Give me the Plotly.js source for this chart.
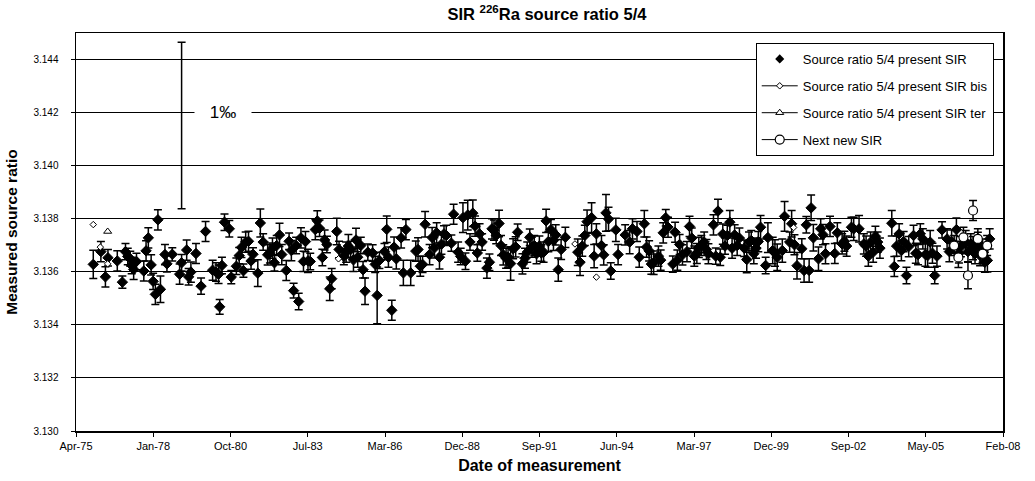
<!DOCTYPE html>
<html><head><meta charset="utf-8">
<script src="https://cdn.plot.ly/plotly-3.0.1.min.js"></script>
<style>html,body{margin:0;padding:0;background:#fff}#chart{width:1035px;height:481px}</style>
</head><body><div id="chart"></div>
<script>
// Source ratio 5/4 present SIR (decimal year, ratio, uncertainty)
const mainYear=[1975.90,1976.17,1976.33,1976.42,1976.75,1976.93,1977.04,1977.12,1977.21,1977.26,1977.33,1977.43,1977.69,1977.77,1977.85,1977.95,1978.02,1978.10,1978.19,1978.28,1978.44,1978.51,1978.70,1978.96,1979.03,1979.21,1979.28,1979.36,1979.54,1979.72,1979.88,1980.13,1980.25,1980.34,1980.38,1980.46,1980.55,1980.72,1980.79,
1980.97,1981.07,1981.15,1981.22,1981.30,1981.40,1981.49,1981.56,1981.73,1981.82,1981.92,1982.08,1982.16,1982.25,1982.32,1982.40,1982.50,1982.58,1982.74,1982.84,1982.92,1983.00,1983.09,1983.18,1983.26,1983.35,1983.42,1983.51,1983.59,1983.77,1983.84,1983.92,1984.02,1984.10,1984.18,1984.28,1984.35,1984.53,1984.61,1984.78,1984.86,1984.94,1985.02,1985.12,1985.21,1985.27,1985.38,1985.46,1985.53,1985.63,1985.80,1985.89,1985.96,1986.04,1986.22,1986.30,1986.36,
1986.48,1986.56,1986.64,1986.81,1986.89,1986.98,1987.15,1987.33,1987.41,1987.49,1987.57,1987.66,1987.82,1987.91,1987.99,1988.07,1988.17,1988.24,1988.33,1988.41,1988.59,1988.67,1988.83,1988.92,1989.00,1989.09,1989.17,1989.25,1989.35,1989.43,1989.51,1989.59,1989.68,1989.85,1989.94,1990.03,1990.10,1990.18,1990.28,1990.35,1990.43,1990.53,1990.60,1990.69,1990.78,1990.87,1990.94,1991.11,1991.20,1991.28,1991.37,1991.45,1991.53,1991.61,1991.71,1991.78,
1991.86,1991.95,1992.03,1992.12,1992.21,1992.29,1992.38,1992.48,1992.63,1993.07,1993.15,1993.23,1993.32,1993.40,1993.56,1993.65,1993.73,1993.91,1993.99,1994.07,1994.16,1994.24,1994.42,1994.50,1994.75,1994.91,1995.01,1995.17,1995.25,1995.43,1995.51,1995.60,1995.68,1995.76,1995.93,1996.01,1996.10,1996.19,1996.27,1996.44,1996.52,1996.60,1996.68,1996.78,1996.94,1997.03,1997.11,1997.20,1997.29,
1997.36,1997.45,1997.55,1997.63,1997.70,1997.88,1997.96,1998.04,1998.12,1998.21,1998.29,1998.37,1998.46,1998.54,1998.63,1998.72,1998.80,1998.97,1999.06,1999.14,1999.22,1999.31,1999.39,1999.47,1999.55,1999.73,1999.81,1999.98,2000.06,2000.14,2000.32,2000.40,2000.58,2000.65,2000.75,2000.84,2001.01,2001.09,2001.17,2001.27,2001.34,2001.42,2001.60,2001.68,2001.76,2001.85,2002.01,2002.18,2002.27,2002.44,2002.52,2002.60,2002.77,
2002.85,2003.04,2003.21,2003.29,2003.37,2003.45,2003.54,2003.62,2003.70,2003.78,2004.20,2004.29,2004.37,2004.46,2004.54,2004.62,2004.72,2004.80,2004.97,2005.05,2005.13,2005.21,2005.30,2005.39,2005.47,2005.56,2005.64,2005.72,2005.80,2005.98,2006.16,2006.24,2006.32,2006.49,2006.58,2006.65,2006.82,2006.90,2007.00,2007.08,2007.15,2007.25,2007.33,2007.42,2007.50,2007.59,2007.67];
const mainRatio=[3.13628,3.13676,3.13581,3.13653,3.13641,3.13561,3.13676,3.13658,3.13649,3.13624,3.13609,3.13639,3.13603,3.13679,3.13728,3.13626,3.13564,3.13515,3.13796,3.13534,3.13665,3.1363,3.13666,3.13591,3.13634,3.13682,3.13581,3.13599,3.13669,3.13546,3.13752,3.13606,3.13599,3.13591,3.13468,3.13624,3.13787,3.13762,3.1358,
3.13621,3.13661,3.13692,3.13604,3.13712,3.13715,3.13641,3.13666,3.13595,3.13784,3.13712,3.13664,3.13671,3.13689,3.13634,3.13699,3.13739,3.13665,3.13605,3.13715,3.1368,3.13529,3.13699,3.13488,3.13728,3.13639,3.13714,3.13641,3.13639,3.13759,3.13792,3.13764,3.13654,3.1372,3.13703,3.13536,3.13574,3.13752,3.13684,3.13658,3.13674,3.13697,3.13684,3.13645,3.1372,3.13655,3.13699,3.13608,3.13527,3.13674,3.13671,3.13628,3.13511,3.13643,3.13676,3.1376,3.13655,
3.13455,3.13693,3.13649,3.13728,3.13596,3.13759,3.13596,3.13678,3.13684,3.13621,3.13628,3.13779,3.13665,3.13729,3.1369,3.13747,3.13655,3.13704,3.13743,3.13737,3.13708,3.13817,3.13674,3.13658,3.13804,3.1364,3.13814,3.13712,3.13821,3.13772,3.13671,3.13743,3.13712,3.13614,3.13636,3.13762,3.13757,3.13737,3.13782,3.13699,3.13664,3.13651,3.13655,3.13631,3.13687,3.13694,3.13749,3.1363,3.13651,3.13674,3.1373,3.13693,3.13699,3.13668,3.13697,3.13671,
3.13674,3.13792,3.13714,3.13759,3.13718,3.13739,3.13608,3.13684,3.1373,3.13674,3.13636,3.13697,3.13737,3.13789,3.13804,3.13659,3.13743,3.13699,3.13664,3.13822,3.13799,3.13603,3.13758,3.13665,3.13739,3.13712,3.13762,3.13752,3.13655,3.13781,3.13693,3.13679,3.13629,3.13634,3.13659,3.13644,3.13747,3.13804,3.13768,3.13629,3.13749,3.13644,3.13703,3.13664,3.13676,3.13771,3.13727,3.13659,3.13669,
3.13692,3.13699,3.13712,3.13684,3.13668,3.13777,3.13659,3.13829,3.13655,3.13742,3.13697,3.13737,3.13787,3.13689,3.13739,3.13699,3.13727,3.13689,3.13646,3.13712,3.13718,3.13668,3.13689,3.13714,3.13768,3.13624,3.13729,3.1368,3.13671,3.13655,3.1368,3.13809,3.13712,3.13781,3.13702,3.13623,3.13687,3.13605,3.13777,3.13605,3.13841,3.13728,3.13649,3.13762,3.1374,3.13668,3.13771,3.13669,3.13747,3.13705,3.13715,3.13697,3.13768,
3.13762,3.13762,3.13705,3.13697,3.13659,3.13712,3.13674,3.13734,3.13712,3.13689,3.13783,3.1362,3.13697,3.13743,3.1368,3.13714,3.13586,3.13695,3.13737,3.1367,3.13665,3.13743,3.13724,3.13665,3.13661,3.13712,3.1367,3.13586,3.13659,3.13758,3.13724,3.13676,3.13714,3.13759,3.13671,3.13695,3.13712,3.13676,3.13705,3.13689,3.13668,3.13705,3.13661,3.1368,3.13636,3.13643,3.13724];
const mainUnc=[.00053,.00038,.00038,.00031,.00038,.00023,.00031,.00031,.00028,.00031,.00038,.00031,.00038,.00038,.00038,.00038,.00031,.00038,.00038,.0005,.00038,.00031,.00025,.00038,.00031,.00038,.00031,.00038,.00038,.00031,.00038,.00038,.00035,.00035,.00028,.00031,.00031,.00031,.00025,
.00031,.00031,.00038,.00025,.00038,.00038,.00031,.00025,.0005,.00053,.00031,.00038,.00038,.00038,.00031,.00038,.00044,.00038,.00038,.00031,.00038,.00028,.00031,.00031,.00038,.00038,.00038,.00044,.00031,.00038,.00038,.00031,.00031,.00038,.00031,.00044,.00038,.0005,.00031,.00031,.00038,.00044,.00031,.00044,.00044,.00038,.00031,.00031,.0005,.00031,.00031,.00031,.00107,.00031,.00031,.0005,.00038,
.00038,.00038,.00038,.00038,.00048,.00038,.00048,.00038,.00044,.00038,.00031,.00048,.00038,.00038,.00038,.00038,.00044,.00038,.00031,.00038,.00031,.00038,.00038,.00031,.00056,.00031,.00056,.00031,.0005,.00038,.00031,.00038,.00031,.00038,.00031,.00038,.00038,.00031,.0005,.00038,.00038,.00038,.00038,.00063,.00038,.00038,.00031,.00038,.00038,.00038,.00031,.00038,.00038,.00038,.00038,.00031,
.00038,.00044,.00038,.00038,.00038,.00038,.00044,.00038,.00038,.0005,.0005,.00038,.00038,.00044,.00056,.00044,.00038,.00038,.00038,.00069,.00044,.00031,.00044,.00038,.00038,.00044,.00038,.00038,.00038,.0005,.00038,.00038,.00038,.00044,.00038,.00038,.00038,.00031,.00038,.00031,.00038,.00038,.00038,.00038,.00038,.00038,.00038,.00038,.00038,
.00038,.00038,.00038,.00038,.00038,.00038,.00031,.00044,.00031,.00038,.00031,.00038,.00044,.00038,.00038,.00038,.00038,.00031,.0005,.00038,.00038,.00038,.00038,.00038,.00044,.00031,.00056,.0005,.0005,.0005,.00044,.00056,.00038,.0005,.00038,.0005,.00038,.00044,.00031,.00044,.00048,.0005,.00044,.00038,.00038,.00038,.00038,.00038,.00038,.00038,.00038,.00038,.00038,
.00044,.0005,.00038,.00038,.00038,.00038,.00038,.00038,.00038,.00038,.00048,.00038,.00038,.00038,.00038,.00038,.00031,.00038,.00038,.00038,.00038,.00038,.00038,.00044,.00044,.00044,.00038,.00031,.00038,.00031,.00038,.00038,.00044,.00044,.00038,.00038,.00044,.00038,.00038,.00044,.00038,.00044,.00038,.00044,.00038,.00044,.00038];
// Source ratio 5/4 present SIR bis
const bisYear=[1975.90,1976.15,1976.41,1984.59,1992.97,1993.73,2000.72];
const bisRatio=[3.13778,3.13693,3.1363,3.13649,3.13705,3.1358,3.13767];
// Source ratio 5/4 present SIR ter
const terYear=[1976.41];
const terRatio=[3.13752];
// Next new SIR
const newYear=[2006.41,2006.56,2006.74,2006.90,2007.08,2007.25,2007.42,2007.58];
const newRatio=[3.13699,3.13654,3.1373,3.13586,3.13831,3.13724,3.13668,3.13699];
const newUnc=[.00038,.00038,.00038,.0005,.00038,.00038,.00038,.00038];
// 1 per mille reference bar
const perMilleYear=1979.03, perMilleTop=3.14465, perMilleBottom=3.13838;
const perMilleLabelYear=1980.50, perMilleLabelRatio=3.142;
const seriesNames=['Source ratio 5/4 present SIR','Source ratio 5/4 present SIR bis','Source ratio 5/4 present SIR ter','Next new SIR'];

function toDate(yr){
  const y=Math.floor(yr);const a=Date.UTC(y,0,1),b=Date.UTC(y+1,0,1);
  return new Date(a+(yr-y)*(b-a)).toISOString().slice(0,19).replace('T',' ');
}
const FONT='Liberation Sans, Arial, sans-serif';
const errStyle=(arr)=>({type:'data',array:arr,visible:true,color:'#000',thickness:1.5,width:4});

const traces=[
 {x:mainYear.map(toDate),y:mainRatio,type:'scatter',mode:'markers',showlegend:false,
  marker:{symbol:'diamond',size:8,color:'#000',line:{color:'#000',width:1}},error_y:errStyle(mainUnc)},
 {x:bisYear.map(toDate),y:bisRatio,type:'scatter',mode:'markers',showlegend:false,
  marker:{symbol:'diamond',size:5,color:'#fff',line:{color:'#000',width:1}}},
 {x:terYear.map(toDate),y:terRatio,type:'scatter',mode:'markers',showlegend:false,
  marker:{symbol:'triangle-up',size:7,color:'#fff',line:{color:'#000',width:1}}},
 {x:newYear.map(toDate),y:newRatio,type:'scatter',mode:'markers',showlegend:false,
  marker:{symbol:'circle',size:9,color:'#fff',line:{color:'#000',width:1.2}},error_y:errStyle(newUnc)},
 {x:[toDate(perMilleYear)],y:[(perMilleTop+perMilleBottom)/2],type:'scatter',mode:'markers',showlegend:false,hoverinfo:'skip',
  marker:{size:1,color:'rgba(0,0,0,0)'},error_y:errStyle([(perMilleTop-perMilleBottom)/2])},
 // legend entries
 {x:[null],y:[null],type:'scatter',mode:'markers',name:seriesNames[0],legendgroup:'a',
  marker:{symbol:'diamond',size:7,color:'#000'}},
 {x:[null],y:[null],type:'scatter',mode:'lines+markers',name:seriesNames[1],legendgroup:'b',
  line:{color:'#000',width:1},marker:{symbol:'diamond',size:5,color:'#fff',line:{color:'#000',width:1}}},
 {x:[null],y:[null],type:'scatter',mode:'lines+markers',name:seriesNames[2],legendgroup:'c',
  line:{color:'#000',width:1},marker:{symbol:'triangle-up',size:7,color:'#fff',line:{color:'#000',width:1}}},
 {x:[null],y:[null],type:'scatter',mode:'lines+markers',name:seriesNames[3],legendgroup:'d',
  line:{color:'#000',width:1},marker:{symbol:'circle',size:9,color:'#fff',line:{color:'#000',width:1.2}}}
];

const layout={
  width:1035,height:481,paper_bgcolor:'#fff',plot_bgcolor:'#fff',
  font:{family:FONT,color:'#000',size:11},
  margin:{l:76,r:32,t:33,b:50},
  title:{text:'<b>SIR <sup>226</sup>Ra source ratio 5/4</b>',font:{family:FONT,size:16.5,color:'#000'},
    x:0.508,xref:'paper',y:0.971,yref:'container',yanchor:'middle'},
  xaxis:{type:'date',range:['1975-04-16','2008-02-22'],tick0:'1975-04-16',dtick:86400000*1000,tickformat:'%b-%y',
    ticks:'outside',ticklen:4,tickcolor:'#000',tickwidth:1,showline:true,linecolor:'#000',linewidth:1.5,mirror:true,
    showgrid:false,zeroline:false,tickfont:{size:11},
    title:{text:'<b>Date of measurement</b>',font:{size:16},standoff:9}},
  yaxis:{range:[3.130,3.145],tick0:3.130,dtick:0.002,tickformat:'.3f',
    ticks:'outside',ticklen:4,tickcolor:'#000',tickwidth:1,showline:true,linecolor:'#000',linewidth:1.5,mirror:true,
    showgrid:true,gridcolor:'#000',gridwidth:1,zeroline:false,tickfont:{size:10},ticklabelstandoff:10,
    title:{text:'<b>Measured source ratio</b>',font:{size:15.5},standoff:12}},
  legend:{x:0.99,xanchor:'right',y:0.975,yanchor:'top',bgcolor:'#fff',bordercolor:'#000',borderwidth:1,
    font:{size:13},traceorder:'grouped',tracegroupgap:7,itemwidth:36},
  annotations:[{x:toDate(perMilleLabelYear),y:perMilleLabelRatio,xref:'x',yref:'y',text:'1‰',showarrow:false,
    font:{size:17,family:FONT},bgcolor:'#fff',width:40,borderpad:8}],
  showlegend:true
};
Plotly.newPlot('chart',traces,layout,{displayModeBar:false,staticPlot:true});
</script></body></html>
